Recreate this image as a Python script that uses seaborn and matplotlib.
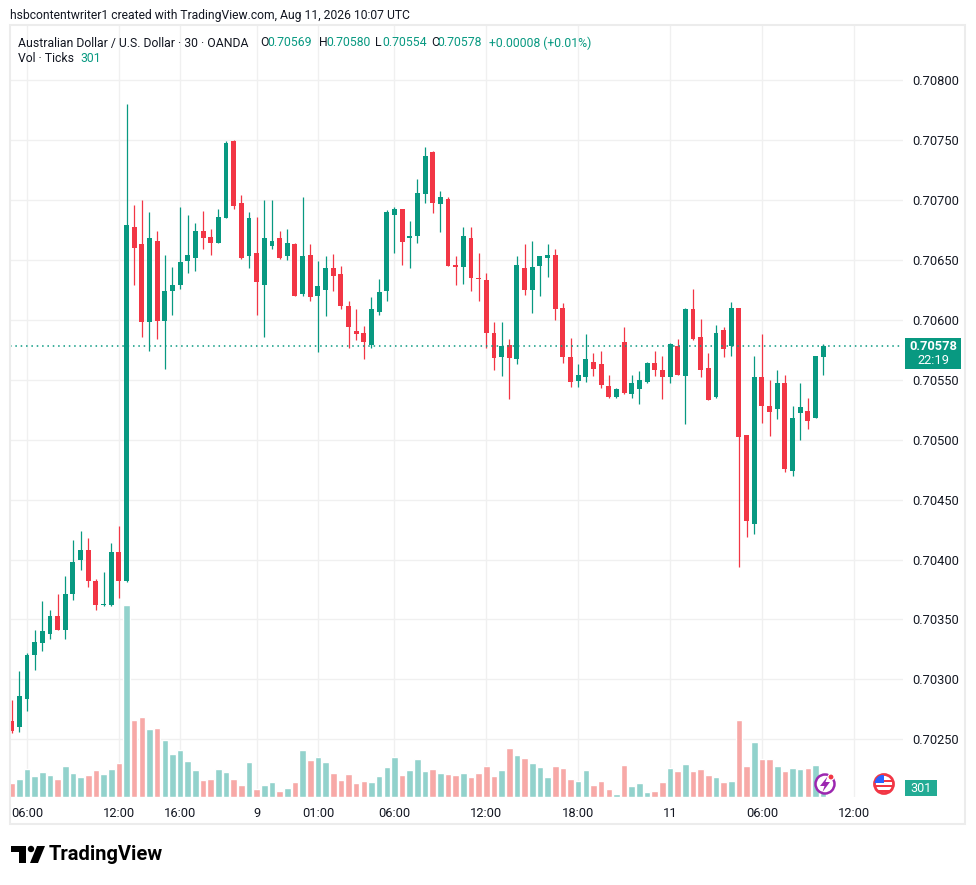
import numpy as np
import pandas as pd
import seaborn as sns
import matplotlib.pyplot as plt
from matplotlib.patches import Rectangle, Circle, Polygon

# AUD/USD 30-min candles, OANDA (Fri Aug 7 05:00 -> Tue Aug 11 10:00 UTC, weekend skipped)
opens = [0.70265, 0.70260, 0.70284, 0.70320, 0.70330, 0.70338, 0.70353, 0.70341, 0.70371, 0.70400,
         0.70408, 0.70382, 0.70362, 0.70362, 0.70406, 0.70382, 0.70678, 0.70663, 0.70598, 0.70666,
         0.70599, 0.70624, 0.70629, 0.70649, 0.70652, 0.70674, 0.70669, 0.70664, 0.70685, 0.70749,
         0.70698, 0.70653, 0.70656, 0.70629, 0.70662, 0.70668, 0.70653, 0.70663, 0.70622, 0.70654,
         0.70620, 0.70625, 0.70643, 0.70638, 0.70612, 0.70591, 0.70589, 0.70579, 0.70607, 0.70624,
         0.70688, 0.70693, 0.70668, 0.70670, 0.70705, 0.70740, 0.70697, 0.70701, 0.70646, 0.70644,
         0.70668, 0.70635, 0.70633, 0.70589, 0.70569, 0.70579, 0.70567, 0.70643, 0.70625, 0.70645,
         0.70652, 0.70654, 0.70610, 0.70569, 0.70549, 0.70552, 0.70565, 0.70563, 0.70545, 0.70536,
         0.70582, 0.70538, 0.70542, 0.70548, 0.70564, 0.70558, 0.70552, 0.70578, 0.70553, 0.70609,
         0.70586, 0.70560, 0.70536, 0.70592, 0.70578, 0.70610, 0.70504, 0.70430, 0.70552, 0.70528,
         0.70526, 0.70547, 0.70474, 0.70522, 0.70524, 0.70518, 0.70569]
highs = [0.70283, 0.70307, 0.70322, 0.70341, 0.70365, 0.70358, 0.70371, 0.70386, 0.70416, 0.70424,
         0.70418, 0.70384, 0.70390, 0.70414, 0.70428, 0.70780, 0.70696, 0.70700, 0.70690, 0.70674,
         0.70654, 0.70644, 0.70694, 0.70688, 0.70681, 0.70691, 0.70676, 0.70693, 0.70749, 0.70750,
         0.70704, 0.70690, 0.70686, 0.70700, 0.70700, 0.70674, 0.70676, 0.70664, 0.70703, 0.70663,
         0.70649, 0.70653, 0.70655, 0.70645, 0.70616, 0.70609, 0.70595, 0.70619, 0.70634, 0.70692,
         0.70694, 0.70693, 0.70683, 0.70718, 0.70744, 0.70741, 0.70708, 0.70703, 0.70653, 0.70678,
         0.70678, 0.70656, 0.70639, 0.70598, 0.70598, 0.70584, 0.70653, 0.70663, 0.70666, 0.70653,
         0.70663, 0.70659, 0.70614, 0.70585, 0.70563, 0.70588, 0.70572, 0.70574, 0.70554, 0.70543,
         0.70594, 0.70554, 0.70557, 0.70565, 0.70574, 0.70570, 0.70581, 0.70584, 0.70610, 0.70626,
         0.70601, 0.70572, 0.70596, 0.70594, 0.70615, 0.70610, 0.70504, 0.70570, 0.70588, 0.70550,
         0.70558, 0.70554, 0.70528, 0.70547, 0.70535, 0.70570, 0.70580]
lows = [0.70255, 0.70256, 0.70274, 0.70308, 0.70324, 0.70334, 0.70341, 0.70334, 0.70366, 0.70391,
        0.70377, 0.70358, 0.70361, 0.70361, 0.70368, 0.70381, 0.70629, 0.70586, 0.70574, 0.70584,
        0.70559, 0.70604, 0.70626, 0.70639, 0.70641, 0.70659, 0.70654, 0.70664, 0.70685, 0.70693,
        0.70651, 0.70643, 0.70604, 0.70586, 0.70659, 0.70651, 0.70650, 0.70620, 0.70620, 0.70616,
        0.70573, 0.70603, 0.70624, 0.70609, 0.70577, 0.70583, 0.70567, 0.70577, 0.70604, 0.70616,
        0.70656, 0.70646, 0.70643, 0.70664, 0.70698, 0.70689, 0.70673, 0.70645, 0.70629, 0.70630,
        0.70624, 0.70616, 0.70577, 0.70558, 0.70553, 0.70534, 0.70563, 0.70621, 0.70606, 0.70620,
        0.70636, 0.70600, 0.70564, 0.70544, 0.70544, 0.70548, 0.70553, 0.70543, 0.70535, 0.70535,
        0.70538, 0.70535, 0.70530, 0.70547, 0.70553, 0.70534, 0.70547, 0.70554, 0.70513, 0.70583,
        0.70552, 0.70533, 0.70535, 0.70569, 0.70570, 0.70394, 0.70419, 0.70421, 0.70514, 0.70503,
        0.70517, 0.70473, 0.70470, 0.70500, 0.70509, 0.70518, 0.70554]
closes = [0.70257, 0.70286, 0.70320, 0.70331, 0.70340, 0.70353, 0.70341, 0.70371, 0.70398, 0.70408,
          0.70382, 0.70362, 0.70362, 0.70406, 0.70382, 0.70679, 0.70660, 0.70598, 0.70668, 0.70599,
          0.70624, 0.70629, 0.70648, 0.70654, 0.70674, 0.70668, 0.70664, 0.70686, 0.70748, 0.70695,
          0.70652, 0.70685, 0.70632, 0.70668, 0.70666, 0.70652, 0.70664, 0.70620, 0.70653, 0.70619,
          0.70628, 0.70643, 0.70637, 0.70612, 0.70594, 0.70588, 0.70582, 0.70609, 0.70623, 0.70690,
          0.70693, 0.70665, 0.70670, 0.70706, 0.70737, 0.70698, 0.70703, 0.70645, 0.70644, 0.70670,
          0.70635, 0.70634, 0.70589, 0.70568, 0.70578, 0.70568, 0.70646, 0.70625, 0.70644, 0.70653,
          0.70654, 0.70609, 0.70569, 0.70548, 0.70554, 0.70567, 0.70559, 0.70546, 0.70536, 0.70542,
          0.70539, 0.70547, 0.70550, 0.70564, 0.70558, 0.70552, 0.70580, 0.70554, 0.70609, 0.70584,
          0.70558, 0.70533, 0.70589, 0.70576, 0.70610, 0.70502, 0.70432, 0.70552, 0.70528, 0.70523,
          0.70547, 0.70476, 0.70518, 0.70527, 0.70516, 0.70570, 0.70578]
# tick volume
volumes = [820, 1060, 1660, 1240, 1480, 1300, 1060, 1840, 1420, 1180,
           1300, 1600, 1360, 1660, 2020, 11500, 4600, 4780, 4060, 4120,
           3400, 2560, 2800, 2140, 1600, 1000, 1060, 1660, 1480, 1060,
           700, 2080, 460, 700, 880, 340, 520, 880, 2800, 2200,
           2380, 2080, 1420, 1000, 1360, 820, 940, 880, 1240, 1780,
           2380, 1300, 1600, 2260, 1540, 1660, 1420, 1360, 1300, 1420,
           1180, 1420, 1840, 1240, 1600, 2920, 2500, 2320, 2020, 1780,
           1180, 1840, 1720, 1060, 940, 1600, 700, 940, 460, 160,
           1900, 640, 820, 280, 340, 880, 1720, 1540, 1960, 1540,
           1660, 1300, 1180, 880, 940, 4600, 1840, 3280, 2260, 2260,
           1840, 1540, 1720, 1660, 1720, 1900, 301]

tick_pos = [2, 14, 22, 32, 40, 50, 62, 74, 86, 98, 110]
tick_labels = ['06:00', '12:00', '16:00', '9', '01:00', '06:00', '12:00', '18:00', '11', '06:00', '12:00']
price_ticks = [0.7025, 0.7030, 0.7035, 0.7040, 0.7045, 0.7050, 0.7055, 0.7060, 0.7065, 0.7070, 0.7075, 0.7080]
last_price = 0.70578

UP = '#089981'
DOWN = '#f23645'
TXT = '#131722'

df = pd.DataFrame({'open': opens, 'high': highs, 'low': lows, 'close': closes, 'volume': volumes})
df['idx'] = np.arange(len(df))
df['dir'] = np.where(df['close'] >= df['open'], 'up', 'down')

sns.set_theme(style='white')
plt.rcParams['font.family'] = ['Roboto', 'DejaVu Sans']

W, H = 976, 885
fig = plt.figure(figsize=(W / 100, H / 100), dpi=100)
fig.patch.set_facecolor('white')


def box(l, t, r, b):
    # pixel box -> figure fraction
    return [l / W, 1 - b / H, (r - l) / W, (b - t) / H]


XLIM = (-0.222, 116.43)

# price pane
ax = fig.add_axes(box(10, 25, 903, 797))
ax.set_xlim(*XLIM)
ax.set_ylim(0.702018, 0.708462)
for d, color in [('up', UP), ('down', DOWN)]:
    s = df[df['dir'] == d]
    ax.vlines(s['idx'], s['low'], s['high'], color=color, lw=0.9, zorder=3)
    body = (s['close'] - s['open']).abs().clip(lower=0.00001)
    ax.bar(s['idx'], body, bottom=s[['open', 'close']].min(axis=1), width=0.64,
           color=color, lw=0, zorder=4)
ax.axhline(last_price, color=UP, lw=1.1, ls=(0, (1, 2.5)), zorder=5)

ax.set_xticks(tick_pos)
ax.set_xticklabels(tick_labels)
ax.set_yticks(price_ticks)
ax.set_yticklabels([f'{p:.5f}' for p in price_ticks])
ax.yaxis.tick_right()
ax.grid(True, color='#f0f0f0', lw=1)
ax.tick_params(axis='y', length=0, pad=7, labelsize=9.3, labelcolor=TXT)
ax.tick_params(axis='x', length=0, pad=7, labelsize=9.3, labelcolor=TXT)
for sp in ax.spines.values():
    sp.set_visible(False)
ax.set_facecolor('none')

# volume overlay
axv = fig.add_axes(box(10, 605, 903, 797))
sns.barplot(data=df, x='idx', y='volume', hue='dir', palette={'up': '#92d2cc', 'down': '#f7a9a7'},
            native_scale=True, width=0.86, dodge=False, saturation=1, errorbar=None,
            legend=False, ax=axv)
axv.set_xlim(*XLIM)
axv.set_ylim(0, 11500)
axv.axis('off')
axv.patch.set_alpha(0)

# overlay for header, labels, frame, logo
ov = fig.add_axes([0, 0, 1, 1], zorder=10)
ov.set_xlim(0, W)
ov.set_ylim(H, 0)
ov.axis('off')
ov.patch.set_alpha(0)

ov.add_patch(Rectangle((9.5, 25), 955.5, 799, fill=False, ec='#ececec', lw=1.5))

ov.text(10.5, 15, 'hsbcontentwriter1 created with TradingView.com, Aug 11, 2026 10:07 UTC',
        va='center', fontsize=8.7, color=TXT)
ov.text(18.5, 43, 'Australian Dollar / U.S. Dollar · 30 · OANDA', va='center', fontsize=8.8, color=TXT)
for lab, lx, val, vx in [('O', 260.5, '0.70569', 267.5), ('H', 319, '0.70580', 326.5),
                         ('L', 375.5, '0.70554', 382), ('C', 431, '0.70578', 437.5)]:
    ov.text(lx, 43, lab, va='center', fontsize=8.8, color=TXT)
    ov.text(vx, 43, val, va='center', fontsize=8.8, color=UP)
ov.text(489, 43, '+0.00008 (+0.01%)', va='center', fontsize=8.8, color=UP)
ov.text(18.5, 59, 'Vol · Ticks', va='center', fontsize=8.8, color=TXT)
ov.text(80.5, 59, '301', va='center', fontsize=8.8, color=UP)

# last price label
ov.add_patch(Rectangle((905, 338), 56, 30.5, fc=UP, ec='none'))
ov.text(933, 346.5, '0.70578', ha='center', va='center', fontsize=9.3, color='white', fontweight='bold')
ov.text(933, 360.5, '22:19', ha='center', va='center', fontsize=9.3, color='white')

# volume label
ov.add_patch(Rectangle((905, 780), 32, 16, fc='#22ab94', ec='none'))
ov.text(921, 788, '301', ha='center', va='center', fontsize=9, color='white')

# icons
ov.add_patch(Circle((825, 784), 9.5, fc='white', ec='#9c27b0', lw=1.8))
ov.add_patch(Polygon([(827.5, 776.5), (820, 786), (824.5, 786), (822.5, 792), (830, 782), (825.5, 782)],
                     closed=True, fc='#9c27b0', ec='none'))
ov.add_patch(Circle((831, 777), 3, fc=DOWN, ec='white', lw=0.8))
flag = Circle((884, 784), 9.5, fc='white', ec=DOWN, lw=2)
ov.add_patch(flag)
for yy in (780, 785, 790):
    r = Rectangle((874, yy), 20, 2.4, fc=DOWN, ec='none')
    ov.add_patch(r)
    r.set_clip_path(flag)
cant = Rectangle((874, 775), 10, 8, fc='#2962ff', ec='none')
ov.add_patch(cant)
cant.set_clip_path(flag)

# TradingView logo
ov.add_patch(Rectangle((11, 846), 15, 6, fc='black', ec='none'))
ov.add_patch(Rectangle((19, 846), 7, 17, fc='black', ec='none'))
ov.add_patch(Circle((31, 849), 3.2, fc='black', ec='none'))
ov.add_patch(Polygon([(37, 846), (45, 846), (38, 863), (30, 863)], closed=True, fc='black', ec='none'))
ov.text(49, 855, 'TradingView', va='center', fontsize=14.5, color='black', fontweight='bold')

fig.savefig('out.png', dpi=100, facecolor='white')
